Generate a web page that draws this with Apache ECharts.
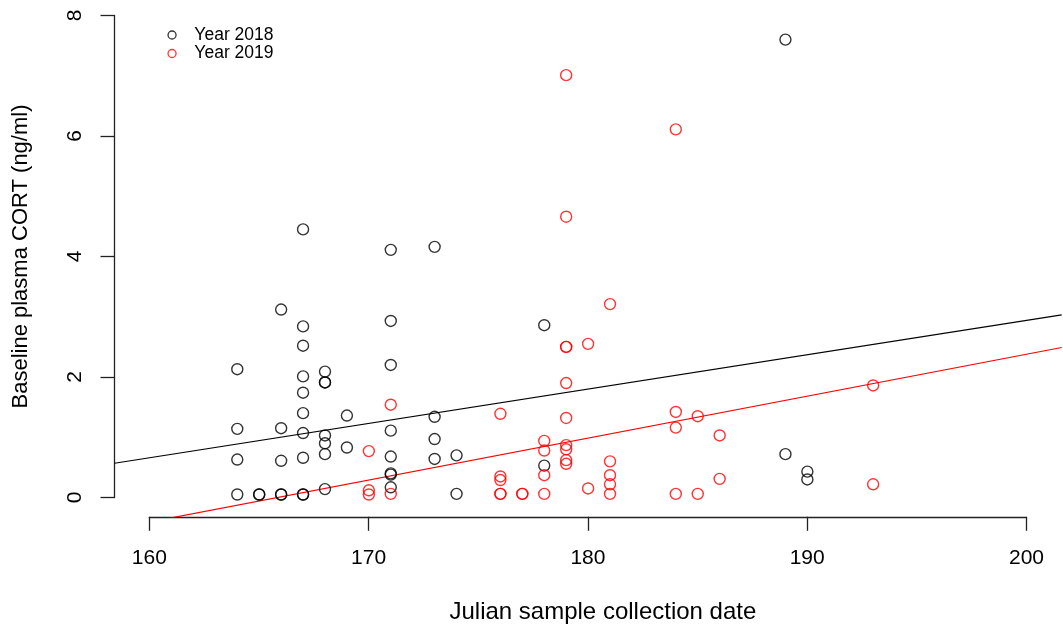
<!DOCTYPE html>
<html>
<head>
<meta charset="utf-8">
<script src="https://cdn.jsdelivr.net/npm/echarts@6/dist/echarts.min.js"></script>
<style>
html,body{margin:0;padding:0;background:#fff;}
#chart{width:1063px;height:631px;}
</style>
</head>
<body>
<div id="chart"></div>
<script>
// Julian date and CORT values, Year 2018
const days2018 = [164,164,164,164, 165,165, 166,166,166,166,166,
  167,167,167,167,167,167,167,167,167,167,
  168,168,168,168,168,168,168, 169,169,
  171,171,171,171,171,171,171,171,
  173,173,173,173, 174,174, 178,178, 189,189, 190,190];
const cort2018 = [2.13,1.14,0.63,0.05, 0.05,0.05, 3.12,1.15,0.61,0.05,0.05,
  4.45,2.84,2.52,2.01,1.74,1.40,1.07,0.66,0.05,0.05,
  2.09,1.91,1.91,1.03,0.90,0.72,0.14, 1.36,0.83,
  4.11,2.93,2.20,1.11,0.68,0.40,0.38,0.17,
  4.16,1.34,0.97,0.64, 0.70,0.06, 2.86,0.53, 7.60,0.72, 0.43,0.30];

// Year 2019
const days2019 = [170,170,170, 171,171, 176,176,176,176,176, 177,177,
  178,178,178,178, 179,179,179,179,179,179,179,179,179,179,
  180,180, 181,181,181,181,181, 184,184,184,184, 185,185, 186,186, 193,193];
const cort2019 = [0.77,0.12,0.05, 1.54,0.06, 1.39,0.35,0.29,0.06,0.06, 0.06,0.06,
  0.94,0.78,0.37,0.06, 7.01,4.66,2.50,2.50,1.90,1.32,0.87,0.80,0.62,0.56,
  2.55,0.15, 3.21,0.60,0.37,0.22,0.06, 6.11,1.42,1.16,0.06, 1.35,0.06, 1.03,0.31, 1.86,0.22];

// Regression fits: [intercept, slope]
const fit2018 = [-8.46, 0.0570];
const fit2019 = [-11.542, 0.0696];

const xTicks = [160, 170, 180, 190, 200];
const yTicks = [0, 2, 4, 6, 8];

const xMin = 158.4, xMax = 201.6, yMin = -0.32, yMax = 8.257;

function pts(xs, ys){ return xs.map((d,i)=>[d, ys[i]]); }
function fitLine(f){ return [xMin, xMax].map(x=>[x, f[0] + f[1]*x]); }

const FONT = 'Liberation Sans, Arial, Helvetica, sans-serif';
const axisColor = '#222';

const chart = echarts.init(document.getElementById('chart'));
chart.setOption({
  animation: false,
  backgroundColor: '#fff',
  grid: [
    {left: 114.5, top: 0, width: 947.2, height: 516.8},
    {left: 149.3, top: 0, width: 877.2, height: 516.8},
    {left: 114.5, top: 15.5, width: 50, height: 482}
  ],
  xAxis: [
    {gridIndex: 0, type: 'value', min: xMin, max: xMax, show: false},
    {gridIndex: 1, type: 'value', min: xTicks[0], max: xTicks[xTicks.length-1], interval: 10,
      name: 'Julian sample collection date', nameLocation: 'middle', nameGap: 84,
      nameTextStyle: {fontFamily: FONT, fontSize: 24, color: '#000', padding: [0,0,0,30]},
      axisLine: {show: true, lineStyle: {color: axisColor, width: 1.3}},
      axisTick: {show: true, length: 14, lineStyle: {color: axisColor, width: 1.3}},
      axisLabel: {margin: 31, fontFamily: FONT, fontSize: 21, color: '#000'},
      splitLine: {show: false}},
    {gridIndex: 2, type: 'value', min: 0, max: 1, show: false}
  ],
  yAxis: [
    {gridIndex: 0, type: 'value', min: yMin, max: yMax, show: false},
    {gridIndex: 1, type: 'value', min: 0, max: 1, show: false},
    {gridIndex: 2, type: 'value', min: yTicks[0], max: yTicks[yTicks.length-1], interval: 2,
      name: 'Baseline plasma CORT (ng/ml)', nameLocation: 'middle', nameGap: 83, nameRotate: 90,
      nameTextStyle: {fontFamily: FONT, fontSize: 22, color: '#000'},
      axisLine: {show: true, lineStyle: {color: axisColor, width: 1.3}},
      axisTick: {show: true, length: 14, lineStyle: {color: axisColor, width: 1.3}},
      axisLabel: {margin: 29, rotate: 90, fontFamily: FONT, fontSize: 21, color: '#000'},
      splitLine: {show: false}}
  ],
  legend: {
    orient: 'vertical', left: 162.4, top: 21, itemWidth: 34.6, itemHeight: 8, itemGap: 0.5,
    textStyle: {fontFamily: FONT, fontSize: 17.5, color: '#000', lineHeight: 17.5, padding: [0,0,0,0]},
    data: [
      {name: 'Year 2018', icon: 'circle', itemStyle: {color: 'transparent', borderColor: '#000', borderWidth: 1.3}},
      {name: 'Year 2019', icon: 'circle', itemStyle: {color: 'transparent', borderColor: '#ff0000', borderWidth: 1.3}}
    ]
  },
  series: [
    {name: 'Year 2018', type: 'scatter', xAxisIndex: 0, yAxisIndex: 0, data: pts(days2018, cort2018),
      symbol: 'circle', symbolSize: 11,
      itemStyle: {color: 'transparent', borderColor: '#000', borderWidth: 1.4},
      emphasis: {disabled: true}, z: 3},
    {name: 'Year 2019', type: 'scatter', xAxisIndex: 0, yAxisIndex: 0, data: pts(days2019, cort2019),
      symbol: 'circle', symbolSize: 11,
      itemStyle: {color: 'transparent', borderColor: '#ff0000', borderWidth: 1.4},
      emphasis: {disabled: true}, z: 3},
    {name: 'fit2018', type: 'line', xAxisIndex: 0, yAxisIndex: 0, data: fitLine(fit2018),
      showSymbol: false, symbol: 'none', clip: true,
      lineStyle: {color: '#000', width: 1.2}, emphasis: {disabled: true}, z: 2},
    {name: 'fit2019', type: 'line', xAxisIndex: 0, yAxisIndex: 0, data: fitLine(fit2019),
      showSymbol: false, symbol: 'none', clip: true,
      lineStyle: {color: '#ff0000', width: 1.2}, emphasis: {disabled: true}, z: 2}
  ]
});
</script>
</body>
</html>
